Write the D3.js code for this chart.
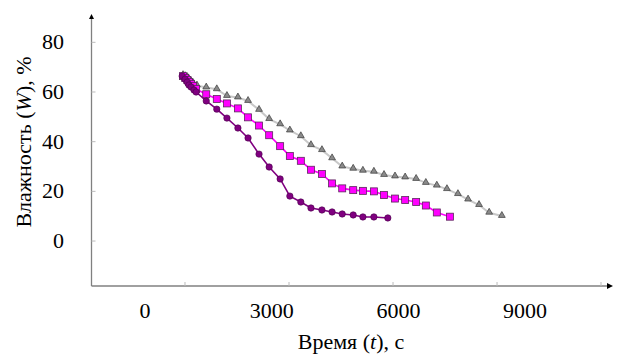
<!DOCTYPE html>
<html>
<head>
<meta charset="utf-8">
<script src="https://cdn.jsdelivr.net/npm/d3@7"></script>
<style>
  body { margin: 0; background: #fff; }
  .serif { font-family: 'Liberation Serif', 'Times New Roman', Tinos, 'DejaVu Serif', serif; }
</style>
</head>
<body>
<svg id="chart" width="617" height="363"></svg>
<script>
// drying curves, time in s, moisture in %
const tDark = [880, 950, 1000, 1040, 1090, 1160, 1210, 1450, 1700, 1940, 2200, 2440, 2700, 2940, 3200, 3430, 3690, 3930, 4190, 4430, 4670, 4930, 5160, 5420, 5750];
const wDark = [66.4, 65.2, 64.0, 62.8, 62.0, 60.8, 60.0, 56.4, 53.1, 49.5, 45.5, 41.5, 35.0, 29.8, 25.0, 18.1, 15.7, 13.3, 12.5, 11.7, 10.9, 10.5, 9.7, 9.7, 9.3];

const tPink = [900, 950, 1000, 1040, 1090, 1140, 1210, 1450, 1700, 1940, 2200, 2440, 2700, 2940, 3200, 3430, 3690, 3930, 4190, 4430, 4670, 4930, 5160, 5420, 5660, 5920, 6160, 6420, 6650, 6910, 7220];
const wPink = [66.4, 65.6, 64.8, 64.0, 63.2, 62.4, 61.2, 59.1, 57.2, 55.4, 53.4, 49.8, 46.5, 42.6, 38.2, 34.2, 32.3, 28.7, 27.0, 23.2, 21.2, 20.5, 20.2, 20.0, 18.5, 17.1, 16.5, 15.7, 14.3, 11.5, 9.8];

const tGrey = [900, 950, 1000, 1040, 1090, 1140, 1230, 1450, 1700, 1940, 2200, 2440, 2700, 2940, 3200, 3430, 3690, 3930, 4190, 4430, 4670, 4930, 5160, 5420, 5660, 5920, 6160, 6420, 6650, 6910, 7150, 7410, 7650, 7910, 8150, 8450];
const wGrey = [66.8, 66.4, 66.0, 65.2, 64.4, 63.6, 62.6, 61.8, 61.1, 58.4, 57.8, 56.4, 52.8, 49.1, 47.0, 44.5, 42.2, 38.6, 36.6, 33.3, 30.0, 29.1, 28.3, 27.9, 26.6, 26.0, 25.6, 25.0, 23.4, 22.3, 20.9, 18.9, 16.7, 14.5, 11.4, 10.1];

const xLabels = [0, 3000, 6000, 9000];
const xTickMarks = [947, 3410, 5873, 8336, 10798];
const yTicks = [0, 20, 40, 60, 80];

const svg = d3.select('#chart');
const x = d3.scaleLinear().domain([-1267, 11082]).range([91.5, 613]);
const y = d3.scaleLinear().domain([-18.1, 91.4]).range([286, 14]);

// axes
const axisColor = '#808080';
svg.append('line').attr('x1', x(-1267)).attr('x2', x(11082) - 4)
  .attr('y1', y(-18.1)).attr('y2', y(-18.1)).attr('stroke', axisColor).attr('stroke-width', 1.3);
svg.append('line').attr('x1', x(-1267)).attr('x2', x(-1267))
  .attr('y1', y(-18.1)).attr('y2', y(91.4) + 4).attr('stroke', axisColor).attr('stroke-width', 1.3);
// arrow heads
svg.append('path')
  .attr('d', `M${x(11082)},${y(-18.1)} l-6,-3 l0,6 z`).attr('fill', '#000');
svg.append('path')
  .attr('d', `M${x(-1267)},${y(91.4)} l-2.5,5 l5,0 z`).attr('fill', '#000');

// tick marks
svg.selectAll('.xtick').data(xTickMarks).enter().append('line')
  .attr('x1', d => x(d)).attr('x2', d => x(d))
  .attr('y1', y(-18.1)).attr('y2', y(-18.1) - 4)
  .attr('stroke', '#bbb');
svg.selectAll('.ytick').data(yTicks).enter().append('line')
  .attr('x1', x(-1267)).attr('x2', x(-1267) + 4)
  .attr('y1', d => y(d)).attr('y2', d => y(d))
  .attr('stroke', '#bbb');

// tick labels
svg.selectAll('.xlab').data(xLabels).enter().append('text')
  .attr('class', 'serif')
  .attr('x', d => x(d)).attr('y', 318)
  .attr('text-anchor', 'middle').style('font-size', '22px').attr('fill', '#000')
  .text(d => d);
svg.selectAll('.ylab').data(yTicks).enter().append('text')
  .attr('class', 'serif')
  .attr('x', 64).attr('y', d => y(d) + 7)
  .attr('text-anchor', 'end').style('font-size', '22px').attr('fill', '#000')
  .text(d => d);

// axis titles
const xt = svg.append('text').attr('class', 'serif').attr('x', 351).attr('y', 349)
  .attr('text-anchor', 'middle').style('font-size', '22px');
xt.append('tspan').text('Время (');
xt.append('tspan').attr('font-style', 'italic').text('t');
xt.append('tspan').text('), с');

const yt = svg.append('text').attr('class', 'serif').attr('transform', 'translate(31,142) rotate(-90)')
  .attr('text-anchor', 'middle').style('font-size', '22px');
yt.append('tspan').text('Влажность (');
yt.append('tspan').attr('font-style', 'italic').text('W');
yt.append('tspan').text('), %');

const line = d3.line().x(d => x(d[0])).y(d => y(d[1]));
const zipT = (t, w) => t.map((v, i) => [v, w[i]]);

const greyData = zipT(tGrey, wGrey);
const pinkData = zipT(tPink, wPink);
const darkData = zipT(tDark, wDark);

// grey series: triangles
svg.append('path').datum(greyData).attr('d', line)
  .attr('fill', 'none').attr('stroke', '#c8c8c8').attr('stroke-width', 2);
svg.selectAll('.tri').data(greyData).enter().append('path')
  .attr('d', d3.symbol(d3.symbolTriangle, 20))
  .attr('transform', d => `translate(${x(d[0])},${y(d[1]) - 0.5})`)
  .attr('fill', '#8a8a8a').attr('stroke', '#3a3a3a').attr('stroke-width', 0.7);

// magenta series: squares
svg.append('path').datum(pinkData).attr('d', line)
  .attr('fill', 'none').attr('stroke', '#ff00ff').attr('stroke-width', 1.6);
svg.selectAll('.sq').data(pinkData).enter().append('rect')
  .attr('x', d => x(d[0]) - 3.5).attr('y', d => y(d[1]) - 3.5)
  .attr('width', 7).attr('height', 7)
  .attr('fill', '#ff00ff').attr('stroke', '#5a2a5a').attr('stroke-width', 0.8);

// dark purple series: circles
svg.append('path').datum(darkData).attr('d', line)
  .attr('fill', 'none').attr('stroke', '#800080').attr('stroke-width', 1.6);
svg.selectAll('.dot').data(darkData).enter().append('circle')
  .attr('cx', d => x(d[0])).attr('cy', d => y(d[1])).attr('r', 3.2)
  .attr('fill', '#800080').attr('stroke', '#4a004a').attr('stroke-width', 0.6);
</script>
</body>
</html>
